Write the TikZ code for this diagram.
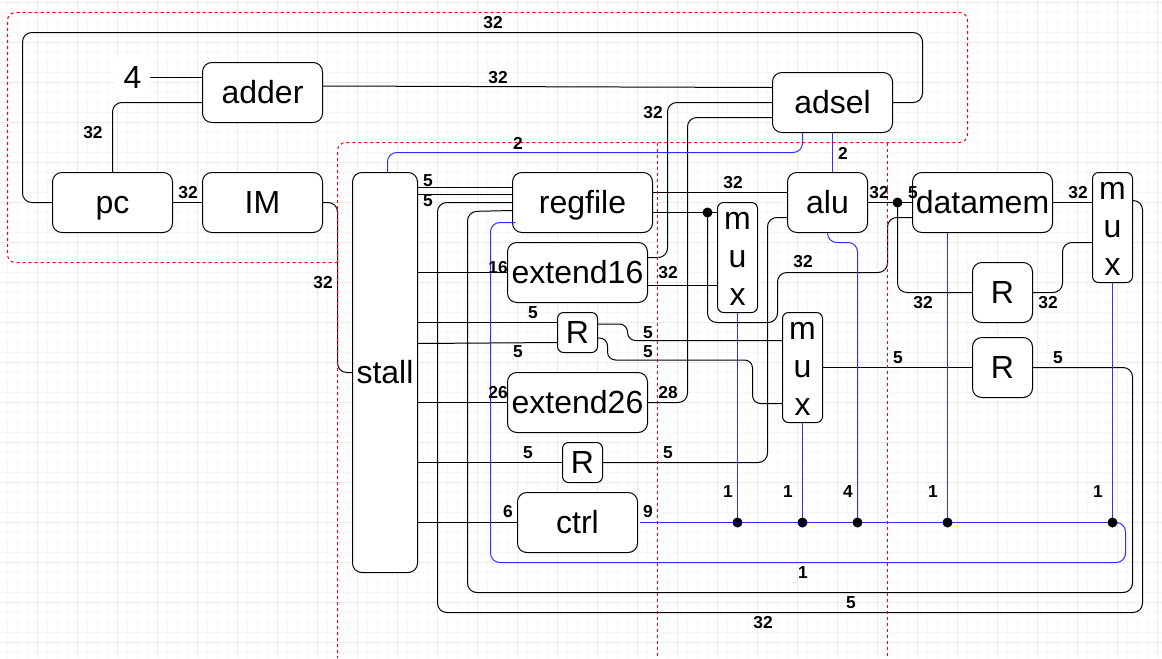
\documentclass[tikz,border=0pt]{standalone}
\usepackage{fontspec}
\setmainfont{Liberation Sans}
\definecolor{wireblue}{HTML}{3030F4}
\definecolor{gridmaj}{HTML}{EBEBEB}
\definecolor{gridmin}{HTML}{F7F7F7}
\pgfdeclarelayer{fg}
\pgfsetlayers{main,fg}
\newcommand{\muxtext}{\rule{0pt}{15.5pt}m\\u\\x}
\tikzset{
  boxcore/.style={draw=black,fill=white,line width=0.75pt,inner sep=0pt,font=\fontsize{24}{28.5}\selectfont,align=center},
  boxbase/.style={boxcore,text height=18pt,text depth=2pt},
  big/.style={boxbase,rounded corners=7pt,minimum width=90pt,minimum height=45pt},
  wideb/.style={boxbase,rounded corners=7pt,minimum width=105pt,minimum height=45pt},
  smallr/.style={boxbase,rounded corners=4.5pt,minimum width=30pt,minimum height=30pt},
  midr/.style={boxbase,rounded corners=7pt,minimum width=45pt,minimum height=45pt},
  muxbox/.style={boxcore,rounded corners=4.5pt,minimum width=30pt,minimum height=82.5pt},
  wire/.style={draw=black,line width=0.75pt,rounded corners=7pt},
  bwire/.style={draw=wireblue,line width=0.75pt,rounded corners=7pt},
  dotn/.style={circle,fill=black,inner sep=0pt,minimum size=7.5pt},
  lbl/.style={inner sep=0pt,font=\fontsize{13}{15}\selectfont\bfseries},
  reddash/.style={draw=red,line width=0.75pt,dash pattern=on 2.25pt off 2.25pt,rounded corners=4.5pt}
}
\begin{document}
\begin{tikzpicture}[x=0.75pt,y=-0.75pt]
\useasboundingbox (0,0) rectangle (1162,658);
\fill[white] (0,0) rectangle (1162,658);
% grid
\foreach \k in {0,...,116}{\draw[gridmin,line width=0.75pt] ({7.5+10*\k},0) -- ({7.5+10*\k},658);}
\foreach \k in {0,...,65}{\draw[gridmin,line width=0.75pt] (0,{2.5+10*\k}) -- (1162,{2.5+10*\k});}
\foreach \k in {0,...,28}{\draw[gridmaj,line width=0.75pt] ({37.5+40*\k},0) -- ({37.5+40*\k},658);}
\foreach \k in {0,...,16}{\draw[gridmaj,line width=0.75pt] (0,{2.5+40*\k}) -- (1162,{2.5+40*\k});}
% boxes
\node[big] (pc) at (112.5,202.5) {pc};
\node[big] (IM) at (262.5,202.5) {IM};
\node[big] (adder) at (262.5,92.5) {adder};
\node[big] (adsel) at (832.5,102.5) {adsel};
\node[boxbase,rounded corners=7pt,minimum width=48.75pt,minimum height=300pt] (stall) at (385,372.5) {stall};
\node[wideb] (regfile) at (582.5,202.5) {regfile};
\node[wideb] (extA) at (577.5,272.5) {extend16};
\node[muxbox] (muxA) at (737.5,257.5) {\muxtext};
\node[boxbase,rounded corners=7pt,minimum width=60pt,minimum height=45pt] (alu) at (827.5,202.5) {alu};
\node[wideb] (datamem) at (982.5,202.5) {datamem};
\node[muxbox] (muxC) at (1112.5,227.5) {\muxtext};
\node[midr] (RA) at (1002.5,292.5) {R};
\node[midr] (RB) at (1002.5,367.5) {R};
\node[muxbox] (muxB) at (802.5,367.5) {\muxtext};
\node[smallr] (RC) at (577.5,332.5) {R};
\node[wideb] (extB) at (577.5,402.5) {extend26};
\node[smallr] (RD) at (582.5,462.5) {R};
\node[big] (ctrl) at (577.5,522.5) {ctrl};
\node[inner sep=0pt,fill=white,minimum width=26.25pt,minimum height=30pt,font=\fontsize{24}{28}\selectfont] (four) at (132.5,77) {4};
% dots (drawn above the wires)
\begin{pgfonlayer}{fg}
\node[dotn] (dA) at (707.5,212.5) {};
\node[dotn] (dB) at (897.5,202.5) {};
\node[dotn] (cA) at (737.5,522.5) {};
\node[dotn] (cB) at (802.5,522.5) {};
\node[dotn] (cC) at (857.5,522.5) {};
\node[dotn] (cD) at (947.5,522.5) {};
\node[dotn] (cE) at (1112.5,522.5) {};
\end{pgfonlayer}
% free ends
\coordinate (ctrlOut) at (640,522.5);
\coordinate (rfBlue) at (515.5,222.5);
% black wires
\draw[wire] (four.east |- 0,77) -- (adder.west |- 0,77);
\draw[wire] (pc.north) -- (112.5,102.5) -- (adder.west |- 0,102.5);
\draw[wire] (pc.west) -- (22.5,202.5) -- (22.5,32.5) -- (922.5,32.5) -- (922.5,102.5) -- (adsel.east |- 0,102.5);
\draw[wire] (pc.east) -- (IM.west);
\draw[wire] (adder.east |- 0,86) -- (adsel.west |- 0,87.5);
\draw[wire] (IM.east) -- (337.5,202.5) -- (337.5,372.5) -- (stall.west);
\draw[wire] (adsel.west |- 0,102.5) -- (667.5,102.5) -- (667.5,257.5) -- (extA.east |- 0,257.5);
\draw[wire] (adsel.west |- 0,117.5) -- (687.5,117.5) -- (687.5,402.5) -- (extB.east);
\draw[wire] (regfile.east |- 0,192.5) -- (alu.west |- 0,192.5);
\draw[wire] (regfile.east |- 0,212.5) -- (dA.center) -- (muxA.west |- 0,212.5);
\draw[wire] (dA.center) -- (707.5,322.5) -- (777.5,322.5) -- (777.5,272.5) -- (887.5,272.5) -- (887.5,217.5) -- (datamem.west |- 0,217.5);
\draw[wire] (alu.east) -- (dB.center) -- (datamem.west);
\draw[wire] (dB.center) -- (897.5,292.5) -- (RA.west);
\draw[wire] (alu.west |- 0,217.5) -- (767.5,217.5) -- (767.5,462.5) -- (RD.east);
\draw[wire] (extA.east |- 0,285.5) -- (muxA.west |- 0,285.5);
\draw[wire] (stall.east |- 0,187.5) -- (regfile.west |- 0,187.5);
\draw[wire] (stall.east |- 0,194.5) -- (regfile.west |- 0,194.5);
\draw[wire] (stall.east |- 0,272.5) -- (extA.west);
\draw[wire] (stall.east |- 0,322.5) -- (RC.west |- 0,322.5);
\draw[wire] (stall.east |- 0,343.5) -- (RC.west |- 0,342.5);
\draw[wire] (stall.east |- 0,402.5) -- (extB.west);
\draw[wire] (stall.east |- 0,462.5) -- (RD.west);
\draw[wire] (stall.east |- 0,522.5) -- (ctrl.west);
\draw[wire] (regfile.west) -- (437.5,202.5) -- (437.5,612.5) -- (1142.5,612.5) -- (1142.5,200.5) -- (muxC.east |- 0,200.5);
\draw[wire] (regfile.west |- 0,210.5) -- (467.5,211.5) -- (467.5,592.5) -- (1132.5,592.5) -- (1132.5,367.5) -- (RB.east);
\draw[wire,rounded corners=6pt] (RC.east |- 0,324) -- (627.5,324) -- (627.5,340.5) -- (muxB.west |- 0,340.5);
\draw[wire,rounded corners=6pt] (RC.east |- 0,338) -- (607.5,338) -- (607.5,360) -- (752.5,360) -- (752.5,403.5) -- (muxB.west |- 0,403.5);
\draw[wire] (muxB.east) -- (RB.west);
\draw[wire] (RA.east) -- (1062.5,292.5) -- (1062.5,242.5) -- (muxC.west |- 0,242.5);
\draw[wire] (datamem.east) -- (muxC.west |- 0,202.5);
% blue wires
\draw[bwire] (387.5,0 |- stall.north) -- (387.5,152.5) -- (802.5,152.5) -- (802.5,0 |- adsel.south);
\draw[bwire] (adsel.south) -- (alu.north -| adsel.south);
\draw[bwire] (alu.south) -- (827.5,242.5) -- (857.5,242.5) -- (cC.center);
\draw[bwire] (muxA.south) -- (cA.center);
\draw[bwire] (muxB.south) -- (cB.center);
\draw[bwire] (947.5,0 |- datamem.south) -- (cD.center);
\draw[bwire] (muxC.south) -- (cE.center);
\draw[bwire] (ctrlOut) -- (cA.center) -- (cB.center) -- (cC.center) -- (cD.center) -- (cE.center);
\draw[bwire] (cE.center) -- (1125.5,522.5) -- (1125.5,562.5) -- (490.5,562.5) -- (490.5,222.5) -- (rfBlue);
% red dashed
\draw[reddash,rounded corners=6pt] (337.5,262.5) -- (7.5,262.5) -- (7.5,12.5) -- (967.5,12.5) -- (967.5,142.5) -- (337.5,142.5) -- (337.5,658);
\draw[reddash] (657.5,142.5) -- (657.5,658);
\draw[reddash] (887.5,142.5) -- (887.5,658);
% labels
\foreach \t/\px/\py in {32/493/23,32/498/78,32/93/133,32/188/193,5/428/181,5/428/201,2/518/143,32/653/113,2/843/153,32/733/183,32/879/193,5/913/193,32/1078/193,32/323/283,16/498/268,32/668/273,32/803/262,32/923/303,32/1048/303,5/533/313,5/518/352,5/648/333,5/648/352,5/898/358,5/1058/358,26/498/393,28/668/393,5/528/453,5/668/453,6/508/512,9/648/512,1/728/492,1/788/492,4/848/492,1/933/492,1/1098/492,1/803/573,5/851/603,32/763/623}
  {\node[lbl] at (\px,\py) {\t};}
\end{tikzpicture}
\end{document}
